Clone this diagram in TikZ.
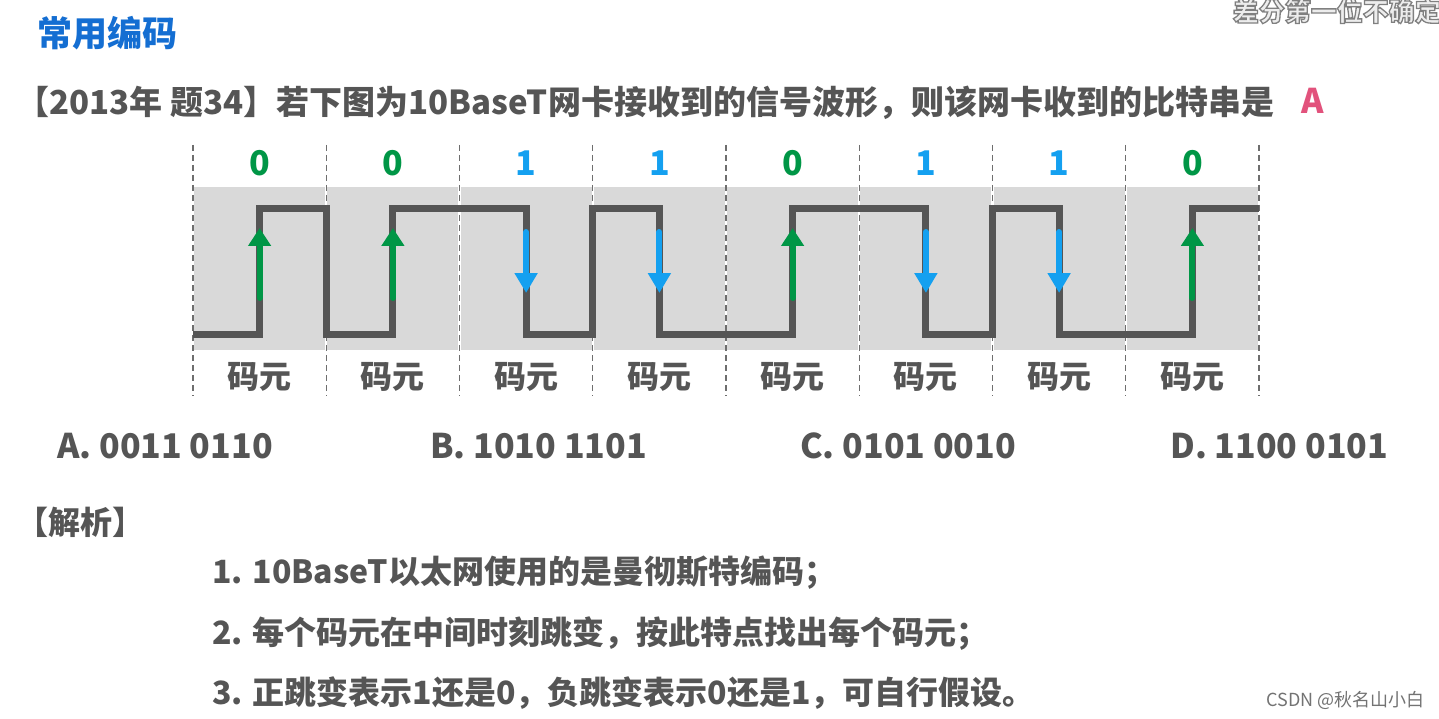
\documentclass[tikz,border=0pt]{standalone}
\usepackage{fontspec}
\setmainfont{Noto Sans CJK SC}
\usetikzlibrary{arrows.meta}
\definecolor{txt}{RGB}{85,85,85}
\definecolor{ttl}{RGB}{20,110,210}
\definecolor{grn}{RGB}{0,150,70}
\definecolor{blu}{RGB}{20,160,240}
\definecolor{cellbg}{RGB}{217,217,217}
\definecolor{wave}{RGB}{85,85,85}
\definecolor{ans}{RGB}{226,82,124}
\definecolor{dashc}{RGB}{110,110,110}
\begin{document}
\begin{tikzpicture}[x=1pt,y=-1pt,
  body/.style={inner sep=0pt, anchor=west, font=\fontsize{32}{32}\selectfont\bfseries, text=txt},
  optlbl/.style={inner sep=0pt, anchor=west, font=\fontsize{34}{34}\selectfont\bfseries, text=txt},
  bitlbl/.style={inner sep=0pt, font=\fontsize{34}{34}\selectfont\bfseries},
  cellname/.style={inner sep=0pt, font=\fontsize{32}{32}\selectfont\bfseries, text=txt},
  cellbox/.style={fill=cellbg, draw=none},
  divline/.style={draw=dashc, line width=1.4pt, dash pattern=on 6pt off 4pt},
  sig/.style={draw=wave, line width=7pt, line join=miter},
  uparr/.style={draw=grn, fill=grn, line width=6pt, line cap=round, -{Triangle[width=22pt,length=18pt]}},
  dnarr/.style={draw=blu, fill=blu, line width=6pt, line cap=round, -{Triangle[width=22pt,length=20pt]}}
]
\useasboundingbox (0,0) rectangle (1439,719);
\fill[white] (0,0) rectangle (1439,719);

% title and question
\node[inner sep=0pt, anchor=west, font=\fontsize{35}{35}\selectfont\bfseries, text=ttl] (title) at (37,33) {常用编码};
\node[body, font=\fontsize{33}{33}\selectfont\bfseries] (question) at (16,103) {【2013年 题34】若下图为10BaseT网卡接收到的信号波形，则该网卡收到的比特串是};
\node[inner sep=0pt, font=\fontsize{34}{34}\selectfont\bfseries, text=ans] (answer) at (1313,101) {A};
\node[inner sep=0pt, anchor=east, font=\fontsize{26}{26}\selectfont\bfseries] (wm) at (1441,11)
  {\color{white!93!black}\special{pdf:literal direct 2 Tr 1.3 w 0.5 G}差分第一位不确定\special{pdf:literal direct 0 Tr}};

% cells
\foreach \i in {0,...,7} {
  \pgfmathsetmacro{\xa}{193+133.25*\i+1.2}
  \pgfmathsetmacro{\xb}{193+133.25*(\i+1)-1.2}
  \fill[cellbox] (\xa,187) rectangle (\xb,350);
}
\foreach \i in {0,...,8} {
  \pgfmathsetmacro{\xx}{193+133.25*\i}
  \draw[divline] (\xx,145) -- (\xx,396);
}

% waveform
\path[sig] (193,334) -- (259.6,334) -- (259.6,209) -- (326.25,209) -- (326.25,334)
  -- (392.9,334) -- (392.9,209) -- (526.1,209) -- (526.1,334) -- (592.75,334)
  -- (592.75,209) -- (659.4,209) -- (659.4,334) -- (792.6,334) -- (792.6,209)
  -- (925.9,209) -- (925.9,334) -- (992.5,334) -- (992.5,209) -- (1059.1,209)
  -- (1059.1,334) -- (1192.4,334) -- (1192.4,209) -- (1259,209);

% transition arrows
\foreach \x in {259.6,392.9,792.6,1192.4} { \draw[uparr] (\x,298) -- (\x,228); }
\foreach \x in {526.1,659.4,925.9,1059.1} { \draw[dnarr] (\x,232) -- (\x,293); }

% bit labels
\node[bitlbl, text=grn] (b0) at (259.6,163) {0};
\node[bitlbl, text=grn] (b1) at (392.9,163) {0};
\node[bitlbl, text=blu] (b2) at (526.1,163) {1};
\node[bitlbl, text=blu] (b3) at (659.4,163) {1};
\node[bitlbl, text=grn] (b4) at (792.6,163) {0};
\node[bitlbl, text=blu] (b5) at (925.9,163) {1};
\node[bitlbl, text=blu] (b6) at (1059.1,163) {1};
\node[bitlbl, text=grn] (b7) at (1192.4,163) {0};

% cell names
\foreach \x [count=\k] in {259.6,392.9,526.1,659.4,792.6,925.9,1059.1,1192.4} {
  \node[cellname] (c\k) at (\x,377) {码元};
}

% options
\node[optlbl] (optA) at (57,446) {A. 0011 0110};
\node[optlbl] (optB) at (430,446) {B. 1010 1101};
\node[optlbl] (optC) at (800,446) {C. 0101 0010};
\node[optlbl] (optD) at (1170,446) {D. 1100 0101};

% analysis
\node[body] (ana) at (16,522) {【解析】};
\node[body] (l1) at (212,573) {1. 10BaseT以太网使用的是曼彻斯特编码；};
\node[body] (l2) at (212,634) {2. 每个码元在中间时刻跳变，按此特点找出每个码元；};
\node[body] (l3) at (212,693) {3. 正跳变表示1还是0，负跳变表示0还是1，可自行假设。};

\node[inner sep=0pt, anchor=east, font=\fontsize{18}{18}\selectfont, text=black!55] (csdn) at (1425,700) {CSDN @秋名山小白};
\end{tikzpicture}
\end{document}
